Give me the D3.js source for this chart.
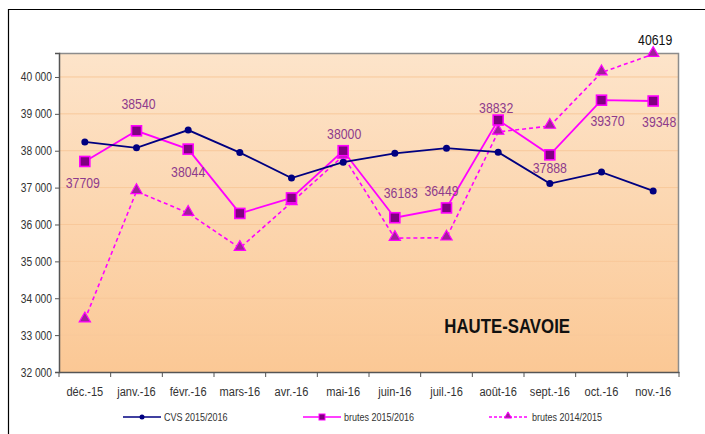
<!DOCTYPE html>
<html>
<head>
<meta charset="utf-8">
<script src="https://cdn.jsdelivr.net/npm/d3@7"></script>
<style>
  body { margin: 0; background: #fff; }
  text { font-family: "Liberation Sans", Arial, sans-serif; }
</style>
</head>
<body>
<div id="chart"></div>
<script>
// Data
const months = ["déc.-15", "janv.-16", "févr.-16", "mars-16", "avr.-16", "mai-16",
    "juin-16", "juil.-16", "août-16", "sept.-16", "oct.-16", "nov.-16"];
const cvs = [38240, 38080, 38560, 37950, 37260, 37690, 37930, 38070, 37960, 37110, 37420, 36910];
const brutes1516 = [37709, 38540, 38044, 36300, 36720, 38000, 36183, 36449, 38832, 37888, 39370, 39348];
const brutes1415 = [33420, 36900, 36310, 35360, 36600, 37860, 35630, 35640, 38510, 38670, 40120, 40619];
const yTicks = [32000, 33000, 34000, 35000, 36000, 37000, 38000, 39000, 40000];
// which brutes 2015/2016 points carry a data label
const labelled = [true, true, true, false, false, true, true, true, true, true, true, true];

const W = 705, H = 434;
const margin = { top: 53, right: 26, bottom: 62, left: 59 };
const width = W - margin.left - margin.right;
const height = H - margin.top - margin.bottom;

const svg = d3.select("#chart")
    .append("svg")
    .attr("width", W)
    .attr("height", H);

// outer frame (left + top only visible)
svg.append("path")
    .attr("d", `M8.5,${H} V9.5 H${W}`)
    .attr("fill", "none")
    .attr("stroke", "#000")
    .attr("stroke-width", 1.2);

const defs = svg.append("defs");
const grad = defs.append("linearGradient")
    .attr("id", "bg")
    .attr("x1", 0).attr("y1", 0).attr("x2", 0).attr("y2", 1);
grad.append("stop").attr("offset", "0%").attr("stop-color", "#fde4ca");
grad.append("stop").attr("offset", "100%").attr("stop-color", "#fbc895");

const g = svg.append("g")
    .attr("transform", `translate(${margin.left},${margin.top})`);

const x = d3.scaleBand()
    .domain(months)
    .range([0, width]);

const y = d3.scaleLinear()
    .domain([32000, 40650])
    .range([height, 0]);

const cx = d => x(d) + x.bandwidth() / 2;

g.append("rect")
    .attr("width", width)
    .attr("height", height)
    .attr("fill", "url(#bg)");

// gridlines
g.selectAll(".grid")
    .data(yTicks.slice(1))
    .enter()
    .append("line")
    .attr("x1", 0)
    .attr("x2", width)
    .attr("y1", d => y(d))
    .attr("y2", d => y(d))
    .attr("stroke", "#f8c89a")
    .attr("stroke-width", 1);

// plot border top/right
g.append("path")
    .attr("d", `M0,0.5 H${width - 0.5} V${height}`)
    .attr("fill", "none")
    .attr("stroke", "#8c8c8c")
    .attr("stroke-width", 1.5);

// narrow text: squeeze horizontally (Arial Narrow look)
const narrow = 0.82;

// axes
const yAxis = g.append("g")
    .call(d3.axisLeft(y)
        .tickValues(yTicks)
        .tickSize(4)
        .tickFormat(d => d3.format(",")(d).replace(",", " ")));
yAxis.select(".domain").attr("stroke", "#555").attr("stroke-width", 1.5);
yAxis.selectAll(".tick line").attr("stroke", "#555");
yAxis.selectAll("text")
    .attr("font-size", 12.5)
    .attr("fill", "#333")
    .attr("font-family", null)
    .attr("transform", `translate(-7,0) scale(${narrow},1) translate(7,0)`);

const xAxis = g.append("g")
    .attr("transform", `translate(0,${height})`)
    .call(d3.axisBottom(x).tickSize(0).tickPadding(14));
xAxis.select(".domain").attr("stroke", "#555").attr("stroke-width", 1.5);
xAxis.selectAll("text")
    .attr("font-size", 13.5)
    .attr("fill", "#333")
    .attr("font-family", null)
    .attr("transform", `scale(${narrow},1)`);

// x ticks between categories
g.selectAll(".xtick")
    .data(months.concat(["end"]))
    .enter()
    .append("line")
    .attr("x1", (d, i) => i * x.step())
    .attr("x2", (d, i) => i * x.step())
    .attr("y1", height)
    .attr("y2", height + 5)
    .attr("stroke", "#555");

// lines
const line = vals => d3.line()
    .x((d, i) => cx(months[i]))
    .y(d => y(d))(vals);

g.append("path")
    .attr("d", line(brutes1415))
    .attr("fill", "none")
    .attr("stroke", "#ff00ff")
    .attr("stroke-width", 1.6)
    .attr("stroke-dasharray", "4,3");

g.append("path")
    .attr("d", line(brutes1516))
    .attr("fill", "none")
    .attr("stroke", "#ff00ff")
    .attr("stroke-width", 1.8);

g.append("path")
    .attr("d", line(cvs))
    .attr("fill", "none")
    .attr("stroke", "#000080")
    .attr("stroke-width", 1.8);

// markers
const tri = d3.symbol().type(d3.symbolTriangle).size(55);

g.selectAll(".tri")
    .data(brutes1415)
    .enter()
    .append("path")
    .attr("d", tri)
    .attr("transform", (d, i) => `translate(${cx(months[i])},${y(d) - 1})`)
    .attr("fill", "#a0209a")
    .attr("stroke", "#ff00ff")
    .attr("stroke-width", 1.2);

g.selectAll(".sq")
    .data(brutes1516)
    .enter()
    .append("rect")
    .attr("x", (d, i) => cx(months[i]) - 5)
    .attr("y", d => y(d) - 5)
    .attr("width", 10)
    .attr("height", 10)
    .attr("fill", "#800080")
    .attr("stroke", "#ff00ff")
    .attr("stroke-width", 1.6);

g.selectAll(".dot")
    .data(cvs)
    .enter()
    .append("circle")
    .attr("cx", (d, i) => cx(months[i]))
    .attr("cy", d => y(d))
    .attr("r", 3.5)
    .attr("fill", "#000080");

// value labels, offsets from the point (dx, dy of baseline)
const labelOffset = {
    0: [-2, 27], 1: [2, -22], 2: [0, 28], 5: [1, -12], 6: [6, -20], 7: [-5, -12],
    8: [-2, -7], 9: [0, 18], 10: [6, 26], 11: [6, 26]
};
const labelData = brutes1516
    .map((v, i) => ({ v, i }))
    .filter(d => labelled[d.i]);

g.selectAll(".lbl")
    .data(labelData)
    .enter()
    .append("text")
    .attr("transform", d => {
        const o = labelOffset[d.i];
        return `translate(${cx(months[d.i]) + o[0]},${y(d.v) + o[1]}) scale(${narrow},1)`;
    })
    .attr("text-anchor", "middle")
    .attr("font-size", 15)
    .attr("fill", "#8e3b8c")
    .text(d => d.v);

g.append("text")
    .attr("transform", `translate(${cx(months[11]) + 2},${y(brutes1415[11]) - 9}) scale(${narrow},1)`)
    .attr("text-anchor", "middle")
    .attr("font-size", 15)
    .attr("fill", "#111")
    .text(brutes1415[11]);

// title in plot
g.append("text")
    .attr("transform", `translate(${cx(months[8]) + 9},${y(33050)}) scale(${narrow},1)`)
    .attr("text-anchor", "middle")
    .attr("font-size", 20.5)
    .attr("font-weight", "bold")
    .attr("fill", "#111")
    .text("HAUTE-SAVOIE");

// legend
const legend = [
    { name: "CVS 2015/2016", x: 123, color: "#000080", dash: null, marker: "circle" },
    { name: "brutes 2015/2016", x: 303, color: "#ff00ff", dash: null, marker: "square" },
    { name: "brutes 2014/2015", x: 489, color: "#ff00ff", dash: "3,2", marker: "triangle" }
];
const ly = 417;
const lg = svg.selectAll(".leg")
    .data(legend)
    .enter()
    .append("g")
    .attr("transform", d => `translate(${d.x},${ly})`);

lg.append("line")
    .attr("x1", 0).attr("x2", 38)
    .attr("stroke", d => d.color)
    .attr("stroke-width", 1.6)
    .attr("stroke-dasharray", d => d.dash);

lg.filter(d => d.marker === "circle").append("circle")
    .attr("cx", 19).attr("r", 2.5).attr("fill", "#000080");
lg.filter(d => d.marker === "square").append("rect")
    .attr("x", 16).attr("y", -3).attr("width", 6).attr("height", 6)
    .attr("fill", "#800080").attr("stroke", "#ff00ff");
lg.filter(d => d.marker === "triangle").append("path")
    .attr("d", d3.symbol().type(d3.symbolTriangle).size(22))
    .attr("transform", "translate(19,-1)")
    .attr("fill", "#a0209a").attr("stroke", "#ff00ff");

lg.append("text")
    .attr("transform", d => `translate(${d.marker === "triangle" ? 43 : 41},4) scale(${narrow},1)`)
    .attr("font-size", 11)
    .attr("fill", "#333")
    .text(d => d.name);
</script>
</body>
</html>
